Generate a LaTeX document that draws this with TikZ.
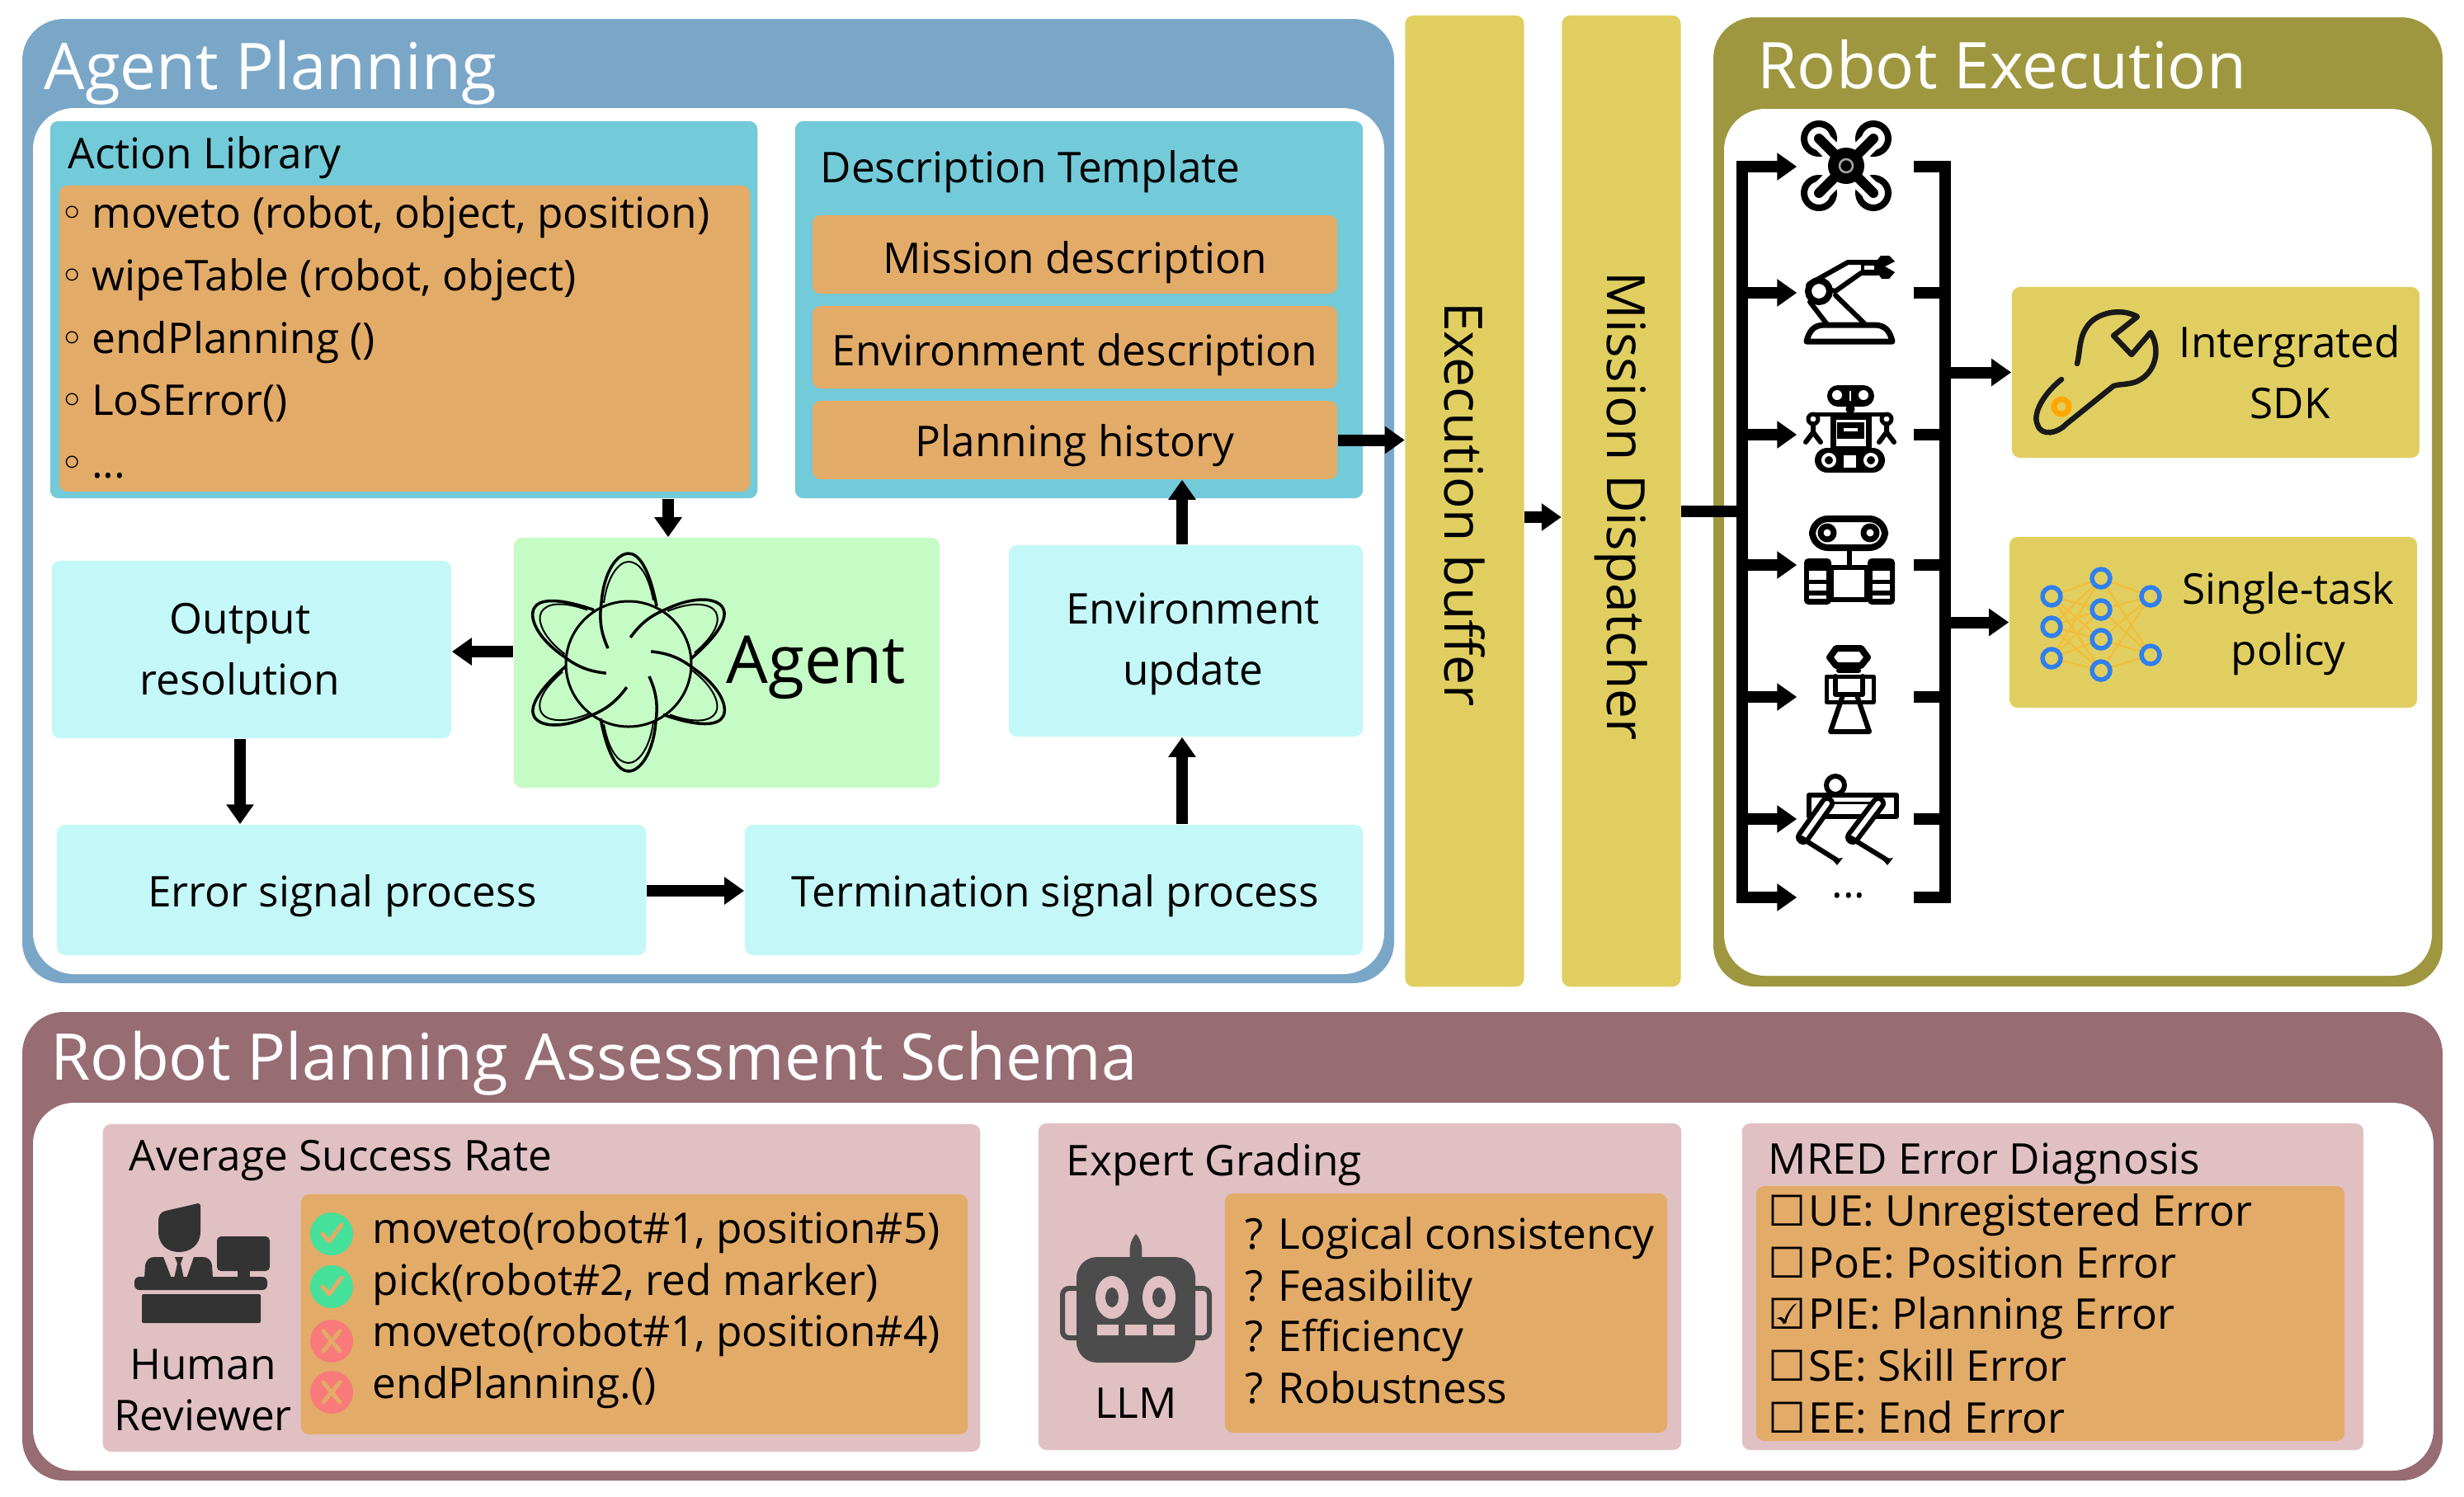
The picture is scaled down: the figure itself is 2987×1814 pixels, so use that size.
\documentclass[tikz,border=0pt]{standalone}
\usepackage{fontspec}
\setmainfont{Open Sans}
\newfontfamily\symfont{DejaVu Sans}
\usetikzlibrary{arrows.meta}
\definecolor{blueframe}{HTML}{7AA7C8}
\definecolor{oliveframe}{HTML}{9E973F}
\definecolor{maroonframe}{HTML}{976C73}
\definecolor{tealbox}{HTML}{73CAD8}
\definecolor{orangebox}{HTML}{E3AB68}
\definecolor{yellowbox}{HTML}{E0CF60}
\definecolor{cyanbox}{HTML}{C4F7F7}
\definecolor{greenbox}{HTML}{C5FBC5}
\definecolor{pinkbox}{HTML}{E0C0C3}
\definecolor{okmark}{HTML}{45E09A}
\definecolor{badmark}{HTML}{F97A7A}
\definecolor{netblue}{HTML}{2F7FEF}
\definecolor{netedge}{HTML}{F2BE3A}
\begin{document}
\begin{tikzpicture}[x=0.01cm,y=-0.01cm]
        \tikzstyle{card} = [rounded corners=0.1cm, inner sep=0pt]
        \tikzstyle{panel} = [rounded corners=0.5cm]
        \tikzstyle{txt} = [font=\fontsize{14.6}{21}\selectfont, align=center, inner sep=0pt]
        \tikzstyle{row} = [txt, anchor=west, text height=0.44cm, text depth=0.1cm]
        \tikzstyle{lowtxt} = [txt, text height=0.5cm, text depth=0.1cm]
        \tikzstyle{title} = [anchor=base west, inner sep=0pt, white, font=\fontsize{22.2}{26}\selectfont]
        \tikzstyle{upright} = [card, minimum width=1.44cm, minimum height=11.77cm, fill=yellowbox, font=\fontsize{18.2}{22}\selectfont]
        \tikzstyle{slot} = [minimum width=1.2cm, minimum height=1cm, inner sep=0pt]
        \tikzstyle{bar} = [draw, black, line width=0.14cm, line cap=rect]
        \tikzstyle{blk} = [draw, black, line width=0.14cm, -{Triangle[length=0.24cm,width=0.32cm]}]
        \tikzstyle{ico} = [black, line width=0.07cm, line join=round, line cap=round]
        \tikzstyle{beam} = [ico, double=white, double distance=0.06cm, line width=0.06cm]
        \useasboundingbox (0,0) rectangle (2987,1814);

        \path[panel, fill=blueframe] (27,23) rectangle (1690,1192);
        \path[panel, fill=white] (40,131) rectangle (1678,1181);
        \path[panel, fill=oliveframe] (2077,21) rectangle (2961,1196);
        \path[panel, fill=white] (2090,132) rectangle (2948,1183);
        \path[panel, fill=maroonframe] (27,1227) rectangle (2961,1795);
        \path[panel, fill=white] (40,1337) rectangle (2950,1783);

        \node[title] (plantitle) at (53,108) {Agent Planning};
        \node[title] (exectitle) at (2130,107) {Robot Execution};
        \node[title] (assesstitle) at (61,1309) {Robot Planning Assessment Schema};

        \node[card, fill=tealbox, minimum width=8.57cm, minimum height=4.57cm] (library) at (489.5,375.5) {};
        \node[card, fill=orangebox, minimum width=8.37cm, minimum height=3.71cm] (actions) at (490.5,410.5) {};
        \node[row] (librarylabel) at (82,187) {Action Library};
        \node[row] (act1) at (72,259) {{\symfont ◦}\hspace{-0.05cm} moveto (robot, object, position)};
        \node[row] (act2) at (72,335) {{\symfont ◦}\hspace{-0.05cm} wipeTable (robot, object)};
        \node[row] (act3) at (72,411) {{\symfont ◦}\hspace{-0.05cm} endPlanning ()};
        \node[row] (act4) at (72,486) {{\symfont ◦}\hspace{-0.05cm} LoSError()};
        \node[row] (act5) at (72,562) {{\symfont ◦}\hspace{-0.05cm} ...};

        \node[card, fill=tealbox, minimum width=6.88cm, minimum height=4.57cm] (template) at (1308,375.5) {};
        \node[row] (templatelabel) at (994,204) {Description Template};
        \node[card, lowtxt, text height=0.56cm, fill=orangebox, minimum width=6.36cm, minimum height=0.95cm] (mission) at (1303,308.5) {Mission description};
        \node[card, lowtxt, text height=0.54cm, fill=orangebox, minimum width=6.36cm, minimum height=1cm] (envdesc) at (1303,421) {Environment description};
        \node[card, lowtxt, fill=orangebox, minimum width=6.36cm, minimum height=0.95cm] (history) at (1303,533.5) {Planning history};

        \node[card, fill=greenbox, minimum width=5.16cm, minimum height=3.03cm] (agent) at (881,803.5) {};
        \node[txt, font=\fontsize{22.8}{26}\selectfont] (agentlabel) at (989,809) {Agent};
        \node[card, fill=cyanbox, minimum width=4.84cm, minimum height=2.15cm] (output) at (305,787.5) {};
        \node[txt] (outputlabel) at (291,787) {Output\\resolution};
        \node[card, fill=cyanbox, minimum width=4.29cm, minimum height=2.32cm] (envupdate) at (1437.5,777) {};
        \node[txt] (envupdatelabel) at (1446,781) {Environment\\update};
        \node[card, fill=cyanbox, minimum width=7.14cm, minimum height=1.58cm] (errorsig) at (426,1079) {};
        \node[txt] (errorsiglabel) at (415,1086) {Error signal process};
        \node[card, fill=cyanbox, minimum width=7.49cm, minimum height=1.58cm] (termsig) at (1277.5,1079) {};
        \node[txt] (termsiglabel) at (1279,1086) {Termination signal process};

        \node[upright] (buffer) at (1775.5,607.5) {\rotatebox{-90}{\hspace{0.08cm}Execution buffer}};
        \node[upright] (dispatcher) at (1965.5,607.5) {\rotatebox{-90}{\hspace{0.12cm}Mission Dispatcher}};

        \node[card, fill=yellowbox, minimum width=4.94cm, minimum height=2.07cm] (sdk) at (2686,451.5) {};
        \node[txt] (sdklabel) at (2776,451) {Intergrated\\SDK};
        \node[card, fill=yellowbox, minimum width=4.94cm, minimum height=2.07cm] (policy) at (2683,754.5) {};
        \node[txt] (policylabel) at (2774,756) {Single-task\\policy};

        \node[slot] (drone) at (2239,202) {};
        \node[slot] (arm) at (2239,355) {};
        \node[slot] (rover) at (2239,527) {};
        \node[slot] (tank) at (2239,685) {};
        \node[slot] (humanoid) at (2239,845) {};
        \node[slot] (dog) at (2239,993) {};
        \node[slot, txt, minimum height=1cm] (more) at (2241,1086) {...};
        \coordinate (busleft) at (2112,620);
        \coordinate (busright) at (2358,620);

        \path[blk] (library.south -| 810,0) to (agent.north -| 810,0);
        \path[blk] (agent.west |- 0,790) to (output.east |- 0,790);
        \path[blk] (output.south -| 291,0) to (errorsig.north -| 291,0);
        \path[blk] (errorsig.east |- 0,1080) to (termsig.west |- 0,1080);
        \path[blk] (termsig.north -| 1433,0) to (envupdate.south -| 1433,0);
        \path[blk] (envupdate.north -| 1433,0) to (history.south -| 1433,0);
        \path[blk] (history.east) to (buffer.west |- history);
        \path[blk] (buffer.east |- 0,627) to (dispatcher.west |- 0,627);

        \path[bar, line cap=butt] (dispatcher.east |- busleft) to (busleft);
        \path[bar] (busleft |- drone) to (busleft |- 0,1088);
        \path[bar] (busright |- drone) to (busright |- 0,1088);
        \foreach \bot in {drone, arm, rover, tank, humanoid, dog}{
            \path[blk] (busleft |- \bot) to (\bot.west);
            \path[bar, line cap=butt] (2320,0 |- \bot) to (busright |- \bot);
        }
        \path[blk] (busleft |- 0,1088) to (drone.west |- 0,1088);
        \path[bar, line cap=butt] (2320,1088) to (busright |- 0,1088);
        \path[blk] (busright |- sdk) to (sdk.west);
        \path[blk] (busright |- policy) to (policy.west);

        \node[card, fill=pinkbox, minimum width=10.63cm, minimum height=3.97cm] (success) at (656.5,1561.5) {};
        \node[card, fill=orangebox, minimum width=8.08cm, minimum height=2.91cm] (successlist) at (769,1593.5) {};
        \node[row] (successlabel) at (156,1402) {Average Success Rate};
        \node[txt, font=\fontsize{14.6}{17.6}\selectfont] (reviewer) at (246,1685) {Human\\Reviewer};
        \node[row] (call1) at (451,1490) {moveto(robot\#1, position\#5)};
        \node[row] (call2) at (451,1553) {pick(robot\#2, red marker)};
        \node[row] (call3) at (451,1615) {moveto(robot\#1, position\#4)};
        \node[row] (call4) at (451,1678) {endPlanning.()};

        \node[card, fill=pinkbox, minimum width=7.79cm, minimum height=3.96cm] (grading) at (1648.5,1560) {};
        \node[card, fill=orangebox, minimum width=5.36cm, minimum height=2.9cm] (gradinglist) at (1753,1592) {};
        \node[row] (gradinglabel) at (1292,1408) {Expert Grading};
        \node[txt] (llm) at (1377,1701) {LLM};
        \node[row] (crit1) at (1509,1497) {? Logical consistency};
        \node[row] (crit2) at (1509,1560) {? Feasibility};
        \node[row] (crit3) at (1509,1621) {? Efficiency};
        \node[row] (crit4) at (1509,1684) {? Robustness};

        \node[card, fill=pinkbox, minimum width=7.53cm, minimum height=3.96cm] (diagnosis) at (2488.5,1560) {};
        \node[card, fill=orangebox, minimum width=7.13cm, minimum height=3.09cm] (diagnosislist) at (2485.5,1592.5) {};
        \node[row] (diagnosislabel) at (2143,1406) {MRED Error Diagnosis};
        \node[row] (err1) at (2143,1469) {{\symfont ☐}\hspace{0.03cm}UE: Unregistered Error};
        \node[row] (err2) at (2143,1532) {{\symfont ☐}\hspace{0.03cm}PoE: Position Error};
        \node[row] (err3) at (2143,1594) {{\symfont ☑}\hspace{0.03cm}PIE: Planning Error};
        \node[row] (err4) at (2143,1657) {{\symfont ☐}\hspace{0.03cm}SE: Skill Error};
        \node[row] (err5) at (2143,1720) {{\symfont ☐}\hspace{0.03cm}EE: End Error};

        % agent emblem
        \foreach \a in {0,60,...,300}{
            \begin{scope}[shift={(762,803)}, rotate=\a]
                \draw[line width=0.035cm] (34,-68) .. controls (25,-115) and (12,-132) .. (0,-132) .. controls (-14,-132) and (-30,-110) .. (-33,-72) .. controls (-36,-50) and (-33,-35) .. (-25,-17);
                \draw[line width=0.02cm] (30,-75) .. controls (24,-108) and (12,-122) .. (0,-122) .. controls (-12,-122) and (-26,-104) .. (-30,-72);
            \end{scope}
        }
        \draw[line width=0.03cm] (762,805) circle (76);

        % drone
        \foreach \sx/\sy in {-1/-1, 1/-1, -1/1, 1/1}{
            \draw[ico, line width=0.08cm] (2238+\sx*33,201+\sy*33) circle (18);
            \draw[white, line width=0.24cm] (2238+\sx*18,201+\sy*18) -- (2238+\sx*33,201+\sy*33);
            \draw[ico, line width=0.12cm] (2238,201) -- (2238+\sx*33,201+\sy*33);
        }
        \fill (2238,201) circle (22);
        \draw[black!35, line width=0.025cm] (2238,201) circle (8);

        % arm
        \draw[ico, fill=white] (2190,414) .. controls (2193,402) and (2198,394) .. (2212,394) -- (2272,394) .. controls (2286,394) and (2291,402) .. (2294,414) -- cycle;
        \draw[ico, line width=0.06cm] (2194,366) -- (2214,392);
        \draw[ico, line width=0.06cm] (2225,358) -- (2260,392);
        \draw[ico, line width=0.06cm, fill=white] (2192,345) -- (2240,318) -- (2276,318) -- (2276,331) -- (2256,331) -- (2225,353) -- cycle;
        \fill (2256,317) rectangle (2276,332);
        \fill[white] (2260,322) rectangle (2272,327);
        \fill (2276,315) -- (2280,310) -- (2290,310) -- (2297,317) -- (2285,323) -- (2297,330) -- (2290,338) -- (2281,338) -- (2276,331) -- cycle;
        \draw[ico, line width=0.08cm, fill=white] (2205,353) circle (13);

        % rover
        \fill[rounded corners=0.13cm] (2215,467) rectangle (2272,493);
        \fill[white] (2227,479) circle (6);
        \fill[white] (2259,479) circle (6);
        \fill[white] (2242,474) rectangle (2244,486);
        \draw[ico, line width=0.05cm] (2243,496) circle (3);
        \draw[ico] (2222,505) rectangle (2265,544);
        \fill (2227,512) rectangle (2260,532);
        \fill[white] (2235,519) rectangle (2252,523);
        \draw[ico, line width=0.05cm] (2198,502) -- (2287,502);
        \foreach \hx/\hs in {2198/1, 2287/-1}{
            \draw[ico, line width=0.05cm] (\hx,508) circle (6);
            \draw[ico, line width=0.06cm] (\hx,514) -- (\hx,524) -- (\hx-9,536);
            \draw[ico, line width=0.06cm] (\hx,524) -- (\hx+9,536);
        }
        \fill[rounded corners=0.15cm] (2200,543) rectangle (2285,573);
        \foreach \wx in {2217,2268}{
            \draw[white, line width=0.04cm] (\wx,558) circle (7);
        }
        \fill[white] (2235,552) rectangle (2250,567);

        % tank
        \draw[ico, line width=0.08cm, rounded corners=0.19cm] (2197,629) rectangle (2285,664);
        \draw[ico, line width=0.07cm] (2215,646) circle (8);
        \draw[ico, line width=0.07cm] (2267,646) circle (8);
        \draw[ico, line width=0.06cm] (2242,666) -- (2242,688);
        \draw[ico, line width=0.06cm] (2220,688) rectangle (2263,727);
        \foreach \tx in {2187,2264}{
            \fill[rounded corners=0.05cm] (\tx,677) rectangle (\tx+33,733);
            \fill[white] (\tx+6,692) rectangle (\tx+27,703);
            \fill[white] (\tx+6,708) rectangle (\tx+27,716);
            \fill[white] (\tx+6,722) rectangle (\tx+27,726);
        }

        % humanoid
        \draw[ico, line width=0.08cm] (2226,786) -- (2256,786) -- (2264,797) -- (2256,807) -- (2226,807) -- (2218,797) -- cycle;
        \draw[ico, line width=0.06cm] (2229,813) -- (2253,813);
        \draw[ico, line width=0.05cm] (2214,820) rectangle (2271,851);
        \draw[ico, line width=0.06cm] (2225,820) -- (2225,842) -- (2258,842) -- (2258,820);
        \draw[ico, line width=0.06cm] (2234,843) -- (2219,887) -- (2266,887) -- (2251,843);

        % dog
        \draw[ico, line width=0.06cm] (2193,964) rectangle (2299,990);
        \draw[ico, line width=0.03cm] (2222,973) -- (2284,973);
        \draw[ico, fill=white, line width=0.06cm] (2225,952) circle (11);
        \draw[beam] (2215,974) -- (2186,1015);
        \draw[ico, line width=0.06cm] (2184,1016) -- (2227,1043);
        \fill (2221,1042) -- (2234,1040) -- (2227,1049) -- cycle;
        \draw[beam] (2277,974) -- (2246,1015);
        \draw[ico, line width=0.06cm] (2244,1016) -- (2288,1043);
        \fill (2282,1042) -- (2295,1040) -- (2288,1049) -- cycle;

        % wrench
        \draw[line width=0.065cm, black!90, line join=round, line cap=round] (2518,441) .. controls (2522,425) and (2520,410) .. (2530,396) .. controls (2540,380) and (2570,372) .. (2591,384) -- (2562,407) -- (2584,430) -- (2607,403) .. controls (2620,425) and (2612,450) .. (2595,460) .. controls (2585,467) and (2570,465) .. (2562,468) -- (2505,514) .. controls (2495,525) and (2475,530) .. (2470,515) .. controls (2463,500) and (2480,475) .. (2499,460);
        \draw[orange!70!yellow, line width=0.07cm] (2499,493) circle (9);

        % network
        \foreach \ya in {723,760,798}{
            \foreach \yb in {701,739,775,813}{
                \draw[netedge, line width=0.025cm] (2487,\ya) -- (2547,\yb);
            }
        }
        \foreach \yb in {701,739,775,813}{
            \foreach \yc in {723,794}{
                \draw[netedge, line width=0.025cm] (2547,\yb) -- (2607,\yc);
            }
        }
        \foreach \px/\py in {2487/723, 2487/760, 2487/798, 2547/701, 2547/739, 2547/775, 2547/813, 2607/723, 2607/794}{
            \draw[netblue, fill=yellowbox, line width=0.055cm] (\px,\py) circle (11);
        }

        % reviewer
        \fill[black!80] (192,1493) -- (192,1480) .. controls (192,1474) and (195,1469) .. (201,1468) -- (240,1459) .. controls (242,1459) and (243,1460) .. (243,1462) -- (243,1493) .. controls (243,1510) and (230,1518) .. (217,1518) .. controls (204,1518) and (192,1510) .. (192,1493) -- cycle;
        \fill[black!80, rounded corners=0.05cm] (263,1499) rectangle (327,1541);
        \fill[black!80] (288,1540) rectangle (303,1550);
        \fill[black!80] (175,1550) -- (176,1534) .. controls (177,1528) and (181,1524) .. (187,1524) -- (198,1524) -- (208,1550) -- cycle;
        \fill[black!80] (258,1550) -- (257,1534) .. controls (256,1528) and (252,1524) .. (246,1524) -- (235,1524) -- (226,1550) -- cycle;
        \fill[black!80] (212,1524) -- (222,1524) -- (219,1532) -- (223,1550) -- (211,1550) -- (215,1532) -- cycle;
        \fill[black!80, rounded corners=0.06cm] (163,1548) rectangle (324,1564);
        \fill[black!80, rounded corners=0.02cm] (172,1569) rectangle (316,1604);

        % review marks
        \foreach \my/\mk in {1496/okmark, 1560/okmark}{
            \fill[\mk] (402,\my) circle (26);
            \draw[orangebox, line width=0.05cm, line cap=round, line join=round] (391,\my) -- (399,\my+9) -- (414,\my-11);
        }
        \foreach \my/\mk in {1626/badmark, 1688/badmark}{
            \fill[\mk] (402,\my) circle (26);
            \draw[orangebox, line width=0.05cm, line cap=round] (392,\my-12) -- (412,\my+12);
            \draw[orangebox, line width=0.05cm, line cap=round] (412,\my-12) -- (392,\my+12);
        }

        % llm head
        \fill[black!70] (1377,1496) .. controls (1369,1505) and (1369,1515) .. (1370,1526) -- (1384,1526) .. controls (1385,1515) and (1385,1505) .. (1377,1496) -- cycle;
        \fill[black!70, rounded corners=0.25cm] (1305,1524) rectangle (1449,1652);
        \draw[black!70, line width=0.06cm, rounded corners=0.08cm] (1305,1562) -- (1288,1562) -- (1288,1622) -- (1305,1622);
        \draw[black!70, line width=0.06cm, rounded corners=0.08cm] (1449,1562) -- (1466,1562) -- (1466,1622) -- (1449,1622);
        \foreach \ex in {1348,1405}{
            \fill[pinkbox] (\ex,1573) ellipse (20 and 26);
            \fill[black!70] (\ex,1573) ellipse (8 and 12);
        }
        \foreach \mx in {1343,1377,1411}{
            \fill[pinkbox] (\mx-13,1606) rectangle (\mx+13,1619);
        }
    \end{tikzpicture}
\end{document}
